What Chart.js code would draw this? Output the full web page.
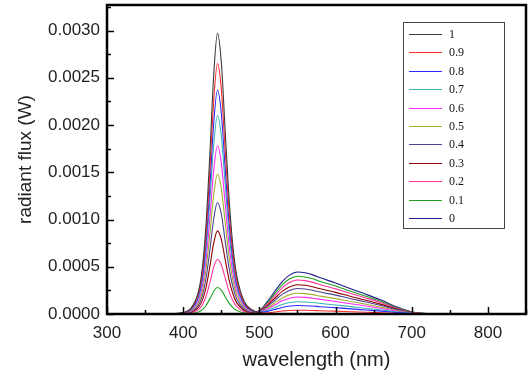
<!DOCTYPE html>
<html>
<head>
<meta charset="utf-8">
<script src="https://cdn.jsdelivr.net/npm/chart.js@4/dist/chart.umd.min.js"></script>
<style>
html,body{margin:0;padding:0;background:#fff;}
#wrap{width:531px;height:376px;position:relative;}
</style>
</head>
<body>
<div id="wrap"><canvas id="c" width="531" height="376"></canvas></div>
<script>
const wavelengths = [380,400,410,420,425,430,435,440,445,450,455,460,465,470,480,490,500,510,520,530,540,550,560,570,580,600,620,640,660,680,700,720,780];
const seriesLabels = ['1','0.9','0.8','0.7','0.6','0.5','0.4','0.3','0.2','0.1','0'];
const seriesColors = ['#3c3c3c','#ff2a2a','#2b2bff','#3fb3b3','#ff2aff','#a3b02e','#4f4290','#8e0000','#ff3399','#1fa01f','#1e1e8c'];
const s100 = [0,0.000015,0.000059,0.000238,0.000475,0.00095,0.00169,0.00252,0.00297,0.00267,0.00196,0.00125,0.00074,0.00042,0.000134,0.000045,0.000015,0.000001,0.000003,0.000004,0.000005,0.000005,0.000005,0.000005,0.000004,0.000004,0.000003,0.000002,0.000002,0.000001,0,0,0];
const s090 = [0,0.000013,0.000053,0.000212,0.000424,0.000848,0.00151,0.00225,0.00265,0.002385,0.00175,0.00111,0.00066,0.00037,0.000119,0.000041,0.000017,0.000011,0.000021,0.000031,0.000037,0.00004,0.000039,0.000037,0.000034,0.00003,0.000024,0.000019,0.000013,0.000007,0.000002,0,0];
const s080 = [0,0.000012,0.000047,0.00019,0.000379,0.000758,0.00135,0.00201,0.00237,0.00213,0.00156,0.000995,0.00059,0.00033,0.000107,0.000037,0.000019,0.000025,0.000048,0.000069,0.000084,0.00009,0.000088,0.000084,0.000077,0.000067,0.000054,0.000042,0.00003,0.000015,0.000005,0.000001,0];
const s070 = [0,0.000011,0.000042,0.000168,0.000336,0.000672,0.001197,0.001785,0.0021,0.00189,0.001386,0.000882,0.000525,0.000294,0.000095,0.000034,0.000021,0.000036,0.000069,0.0001,0.000121,0.00013,0.000127,0.000121,0.000112,0.000096,0.000078,0.000061,0.000043,0.000022,0.000007,0.000001,0];
const s060 = [0,0.000009,0.000036,0.000142,0.000285,0.00057,0.001015,0.001513,0.00178,0.001602,0.001175,0.000748,0.000445,0.000249,0.00008,0.00003,0.000023,0.00005,0.000095,0.000139,0.000167,0.00018,0.000176,0.000167,0.000155,0.000133,0.000108,0.000085,0.000059,0.000031,0.000009,0.000002,0];
const s050 = [0,0.000007,0.00003,0.000118,0.000237,0.000474,0.000844,0.001258,0.00148,0.001332,0.000977,0.000622,0.00037,0.000207,0.000067,0.000027,0.000025,0.000062,0.000117,0.000169,0.000205,0.00022,0.000216,0.000205,0.000189,0.000163,0.000132,0.000103,0.000073,0.000037,0.000011,0.000002,0];
const s040 = [0,0.000006,0.000024,0.000094,0.000189,0.000378,0.000673,0.001003,0.00118,0.001062,0.000779,0.000496,0.000295,0.000165,0.000053,0.000023,0.000028,0.000076,0.000143,0.000208,0.000251,0.00027,0.000265,0.000251,0.000232,0.0002,0.000162,0.000127,0.000089,0.000046,0.000014,0.000003,0];
const s030 = [0,0.000004,0.000018,0.00007,0.000141,0.000282,0.000502,0.000748,0.00088,0.000792,0.000581,0.00037,0.00022,0.000123,0.00004,0.000019,0.000029,0.000087,0.000164,0.000239,0.000288,0.00031,0.000304,0.000288,0.000267,0.000229,0.000186,0.000146,0.000102,0.000053,0.000016,0.000003,0];
const s020 = [0,0.000003,0.000012,0.000046,0.000093,0.000186,0.000331,0.000493,0.00058,0.000522,0.000383,0.000244,0.000145,0.000081,0.000026,0.000016,0.000032,0.000101,0.000191,0.000277,0.000335,0.00036,0.000353,0.000335,0.00031,0.000266,0.000216,0.000169,0.000119,0.000061,0.000018,0.000004,0];
const s010 = [0,0.000001,0.000006,0.000022,0.000045,0.00009,0.00016,0.000238,0.00028,0.000252,0.000185,0.000118,0.00007,0.000039,0.000013,0.000012,0.000033,0.000112,0.000212,0.000308,0.000372,0.0004,0.000392,0.000372,0.000344,0.000296,0.00024,0.000188,0.000132,0.000068,0.00002,0.000004,0];
const s000 = [0,0,0,0,0,0,0,0,0,0,0,0,0,0,0,0.000009,0.000036,0.000125,0.000236,0.000343,0.000414,0.000445,0.000436,0.000414,0.000383,0.000329,0.000267,0.000209,0.000147,0.000076,0.000022,0.000005,0];
const seriesValues = [s100,s090,s080,s070,s060,s050,s040,s030,s020,s010,s000];
const xTickValues = [300,400,500,600,700,800];
const yTickValues = [0,0.0005,0.001,0.0015,0.002,0.0025,0.003];

const datasets = seriesValues.map((vals,i)=>({
  label: seriesLabels[i],
  data: wavelengths.map((w,j)=>({x:w,y:vals[j]})),
  borderColor: seriesColors[i],
  backgroundColor: seriesColors[i],
  borderWidth: 1.1,
  pointRadius: 0,
  cubicInterpolationMode: 'monotone',
  fill: false
}));

const framePlugin = {
  id: 'frame',
  afterDatasetsDraw(chart){
    const ctx = chart.ctx;
    const a = chart.chartArea;
    const xs = chart.scales.x, ys = chart.scales.y;
    ctx.save();
    ctx.strokeStyle = '#000';
    ctx.lineWidth = 1.5;
    for (let v = 300; v <= 850; v += 50) {
      const px = Math.round(xs.getPixelForValue(v)) + 0.5;
      const len = (v % 100 === 0) ? 7 : 4;
      ctx.beginPath(); ctx.moveTo(px, a.bottom); ctx.lineTo(px, a.bottom - len); ctx.stroke();
    }
    for (let k = 0; k <= 13; k++) {
      const v = k * 0.00025;
      const py = Math.round(ys.getPixelForValue(v)) + 0.5;
      const len = (k % 2 === 0) ? 7 : 4;
      ctx.beginPath(); ctx.moveTo(a.left, py); ctx.lineTo(a.left + len, py); ctx.stroke();
    }
    ctx.lineWidth = 2.5;
    ctx.strokeRect(a.left, a.top, a.right - a.left, a.bottom - a.top);
    const lx = 403, ly = 22, lw = 101, lh = 206;
    ctx.fillStyle = '#fff';
    ctx.fillRect(lx, ly, lw, lh);
    ctx.lineWidth = 1;
    ctx.strokeStyle = '#444';
    ctx.strokeRect(lx + 0.5, ly + 0.5, lw, lh);
    ctx.font = '12px "Liberation Serif", "Times New Roman", serif';
    ctx.textBaseline = 'middle';
    ctx.textAlign = 'left';
    chart.data.datasets.forEach((ds, i) => {
      const y = Math.round(ly + 12 + i * 18.4) + 0.5;
      ctx.strokeStyle = ds.borderColor;
      ctx.lineWidth = 1.2;
      ctx.beginPath(); ctx.moveTo(lx + 6, y); ctx.lineTo(lx + 39, y); ctx.stroke();
      ctx.fillStyle = '#111';
      ctx.fillText(ds.label, lx + 46, y);
    });
    ctx.restore();
  }
};

new Chart(document.getElementById('c'), {
  type: 'line',
  data: { datasets },
  options: {
    responsive: false,
    animation: false,
    events: [],
    layout: { padding: { left: 0, right: 5, top: 5, bottom: 0 } },
    plugins: { legend: { display: false }, tooltip: { enabled: false } },
    scales: {
      x: {
        type: 'linear',
        min: 300, max: 850,
        grid: { display: false, drawTicks: false },
        border: { display: false },
        afterBuildTicks(scale){ scale.ticks = xTickValues.map(v => ({ value: v })); },
        afterFit(scale){ scale.height = 62; scale.paddingLeft = 0; scale.paddingRight = 0; },
        ticks: {
          padding: 9,
          maxRotation: 0,
          color: '#222',
          font: { family: 'Arial, "Liberation Sans", sans-serif', size: 17 },
          callback: v => String(v)
        },
        title: {
          display: true,
          text: 'wavelength (nm)',
          color: '#222',
          font: { family: 'Arial, "Liberation Sans", sans-serif', size: 20 },
          padding: { top: 0, bottom: 4 }
        }
      },
      y: {
        type: 'linear',
        min: 0, max: 0.00327,
        grid: { display: false, drawTicks: false },
        border: { display: false },
        afterBuildTicks(scale){ scale.ticks = yTickValues.map(v => ({ value: v })); },
        afterFit(scale){ scale.width = 107; scale.paddingTop = 0; scale.paddingBottom = 0; },
        ticks: {
          padding: 7,
          color: '#222',
          font: { family: 'Arial, "Liberation Sans", sans-serif', size: 17 },
          callback: v => Number(v).toFixed(4)
        },
        title: {
          display: true,
          text: 'radiant flux (W)',
          color: '#222',
          font: { family: 'Arial, "Liberation Sans", sans-serif', size: 19 },
          padding: { top: 14, bottom: 0 }
        }
      }
    }
  },
  plugins: [framePlugin]
});
</script>
</body>
</html>
